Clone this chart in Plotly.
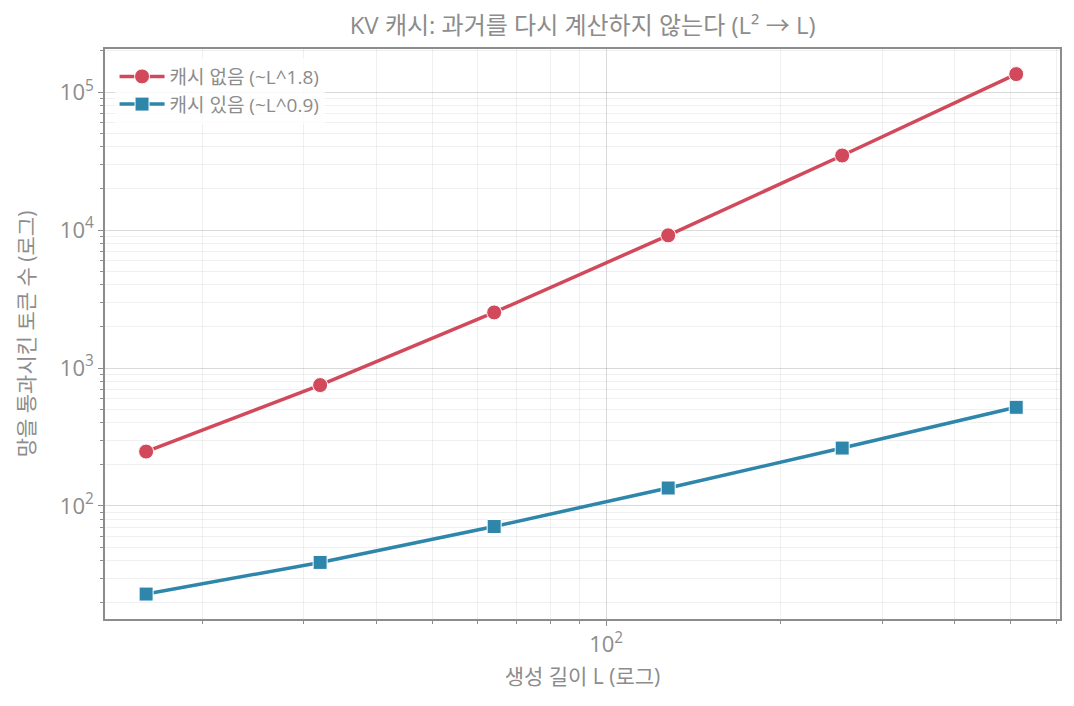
import plotly.graph_objects as go

# generation length L (log scale)
lengths = [16, 32, 64, 128, 256, 512]
# tokens passed through the network
no_cache = [248, 752, 2528, 9152, 34688, 134912]
with_cache = [23, 39, 71, 135, 263, 519]

series_names = ['캐시 없음 (~L^1.8)', '캐시 있음 (~L^0.9)']
title_text = 'KV 캐시: 과거를 다시 계산하지 않는다 (L² → L)'
x_title = '생성 길이 L (로그)'
y_title = '망을 통과시킨 토큰 수 (로그)'
x_ticks = [100]
x_ticktext = ['10<sup>2</sup>']
y_ticks = [100, 1000, 10000, 100000]
y_ticktext = ['10<sup>2</sup>', '10<sup>3</sup>', '10<sup>4</sup>', '10<sup>5</sup>']

font_family = 'Open Sans, Noto Sans CJK KR, sans-serif'
text_gray = '#8c8c8c'
red = '#d1495b'
blue = '#2e86ab'

fig = go.Figure()

fig.add_trace(go.Scatter(
    x=lengths, y=no_cache, name=series_names[0],
    mode='lines+markers',
    line=dict(color=red, width=3.5),
    marker=dict(symbol='circle', size=15, color=red, line=dict(color='white', width=1))
))
fig.add_trace(go.Scatter(
    x=lengths, y=with_cache, name=series_names[1],
    mode='lines+markers',
    line=dict(color=blue, width=3.5),
    marker=dict(symbol='square', size=14, color=blue, line=dict(color='white', width=1))
))

axis_common = dict(
    type='log',
    showline=True, linecolor='#8c8c8c', linewidth=1.5, mirror=True,
    ticks='outside', ticklen=5, tickcolor='#8c8c8c', tickwidth=1,
    showgrid=True, gridcolor='rgba(0,0,0,0.09)', gridwidth=1,
    tickfont=dict(size=22, color=text_gray, family=font_family),
    zeroline=False,
    minor=dict(ticks='outside', ticklen=3, tickcolor='#8c8c8c',
               showgrid=True, gridcolor='rgba(0,0,0,0.06)', dtick='D1'),
)

fig.update_xaxes(
    **axis_common,
    range=[1.133, 2.785],
    tickvals=x_ticks, ticktext=x_ticktext,
    title=dict(text=x_title, font=dict(size=21, color=text_gray, family=font_family), standoff=12),
)
fig.update_yaxes(
    **axis_common,
    range=[1.181, 5.312],
    tickvals=y_ticks, ticktext=y_ticktext,
    title=dict(text=y_title, font=dict(size=21, color=text_gray, family=font_family), standoff=20),
)

fig.update_layout(
    width=1074, height=706,
    margin=dict(l=97, r=22, t=41, b=95),
    paper_bgcolor='white', plot_bgcolor='white',
    title=dict(text=title_text, x=0.535, xanchor='center', y=0.975, yanchor='middle',
               font=dict(size=24, color=text_gray, family=font_family)),
    font=dict(family=font_family, color=text_gray),
    legend=dict(x=0.01, y=0.985, xanchor='left', yanchor='top',
                bgcolor='rgba(255,255,255,0.8)', borderwidth=0, itemwidth=45,
                font=dict(size=19, color=text_gray, family=font_family)),
)

fig.write_html("out.html")
